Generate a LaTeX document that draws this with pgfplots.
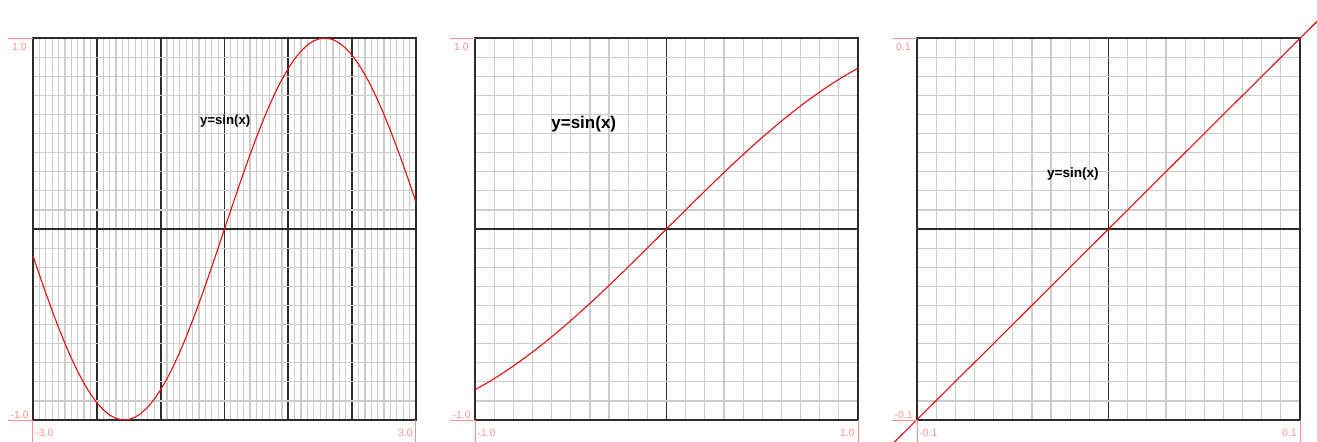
\documentclass[border=0pt]{standalone}
\usepackage{pgfplots}
\pgfplotsset{compat=1.18}
\usepackage{fontspec}
\setmainfont{Liberation Sans}

\definecolor{tickpink}{HTML}{FF9090}
\definecolor{gridgray}{HTML}{CCCCCC}
\definecolor{framegray}{HTML}{2C2C2C}
\definecolor{curvered}{HTML}{E01010}

\pgfplotsset{
  panel/.style={
    scale only axis, width=191.5pt, height=191pt, anchor=south west,
    clip=false,
    axis line style={draw=framegray, line width=0.85pt},
    grid=both,
    major grid style={draw=framegray, line width=0.85pt},
    minor grid style={draw=gridgray, line width=0.6pt},
    xticklabels={}, yticklabels={},
    major tick length=0pt, minor tick length=0pt,
    tick style={draw=none},
  },
  sinline/.style={draw=curvered, line width=0.55pt, no markers},
}

% red corner ticks: #1 = ymax label, #2 = ymin label, #3 = xmin label, #4 = xmax label
\newcommand{\cornerticks}[4]{%
  \draw[tickpink, line width=0.5pt] (rel axis cs:0,1) -- ++(-12.5pt,0pt);
  \draw[tickpink, line width=0.5pt] (rel axis cs:0,0) -- ++(-12.5pt,0pt);
  \draw[tickpink, line width=0.5pt] (rel axis cs:0,0) -- ++(0pt,-12pt);
  \draw[tickpink, line width=0.5pt] (rel axis cs:1,0) -- ++(0pt,-12pt);
  \path (rel axis cs:0,1) ++(-3pt,-2.5pt)
    node[anchor=north east, inner sep=0pt, text=tickpink, font=\fontsize{5.2}{6}\selectfont] {#1};
  \path (rel axis cs:0,0) ++(-2pt,0.7pt)
    node[anchor=south east, inner sep=0pt, text=tickpink, font=\fontsize{5.2}{6}\selectfont] {#2};
  \path (rel axis cs:0,0) ++(1pt,-4.5pt)
    node[anchor=north west, inner sep=0pt, text=tickpink, font=\fontsize{5.2}{6}\selectfont] {#3};
  \path (rel axis cs:1,0) ++(-1.5pt,-4.5pt)
    node[anchor=north east, inner sep=0pt, text=tickpink, font=\fontsize{5.2}{6}\selectfont] {#4};
}

\begin{document}
\begin{tikzpicture}
\path[use as bounding box] (0pt,0pt) rectangle (658.5pt,220.5pt);
\clip (0pt,0pt) rectangle (658.5pt,220.5pt);

% ---------- panel 1: x in [-3,3] ----------
\begin{axis}[panel, at={(16.5pt,10.5pt)},
  xmin=-3, xmax=3, ymin=-1, ymax=1,
  xtick={-2,-1,0,1,2}, ytick={0},
  minor xtick={-3,-2.9,...,3.01},
  minor ytick={-1,-0.9,...,1.01},
]
\addplot[sinline] coordinates {
(-3.0,-0.14112) (-2.9,-0.23925) (-2.8,-0.33499) (-2.7,-0.42738) (-2.6,-0.51550)
(-2.5,-0.59847) (-2.4,-0.67546) (-2.3,-0.74571) (-2.2,-0.80850) (-2.1,-0.86321)
(-2.0,-0.90930) (-1.9,-0.94630) (-1.8,-0.97385) (-1.7,-0.99166) (-1.6,-0.99957)
(-1.5,-0.99749) (-1.4,-0.98545) (-1.3,-0.96356) (-1.2,-0.93204) (-1.1,-0.89121)
(-1.0,-0.84147) (-0.9,-0.78333) (-0.8,-0.71736) (-0.7,-0.64422) (-0.6,-0.56464)
(-0.5,-0.47943) (-0.4,-0.38942) (-0.3,-0.29552) (-0.2,-0.19867) (-0.1,-0.09983)
(0.0,0.0)
(0.1,0.09983) (0.2,0.19867) (0.3,0.29552) (0.4,0.38942) (0.5,0.47943)
(0.6,0.56464) (0.7,0.64422) (0.8,0.71736) (0.9,0.78333) (1.0,0.84147)
(1.1,0.89121) (1.2,0.93204) (1.3,0.96356) (1.4,0.98545) (1.5,0.99749)
(1.6,0.99957) (1.7,0.99166) (1.8,0.97385) (1.9,0.94630) (2.0,0.90930)
(2.1,0.86321) (2.2,0.80850) (2.3,0.74571) (2.4,0.67546) (2.5,0.59847)
(2.6,0.51550) (2.7,0.42738) (2.8,0.33499) (2.9,0.23925) (3.0,0.14112)
};
\node[font=\bfseries\fontsize{6.6}{8}\selectfont, inner sep=0pt] at (axis cs:0.01,0.565) {y=sin(x)};
\cornerticks{1.0}{-1.0}{-3.0}{3.0}
\end{axis}

% ---------- panel 2: x in [-1,1] ----------
\begin{axis}[panel, at={(237.5pt,10.5pt)},
  xmin=-1, xmax=1, ymin=-1, ymax=1,
  xtick={0}, ytick={0},
  minor xtick={-1,-0.9,...,1.01},
  minor ytick={-1,-0.9,...,1.01},
]
\addplot[sinline, smooth] coordinates {
(-1.00,-0.84147) (-0.95,-0.81342) (-0.90,-0.78333) (-0.85,-0.75128) (-0.80,-0.71736)
(-0.75,-0.68164) (-0.70,-0.64422) (-0.65,-0.60519) (-0.60,-0.56464) (-0.55,-0.52269)
(-0.50,-0.47943) (-0.45,-0.43497) (-0.40,-0.38942) (-0.35,-0.34290) (-0.30,-0.29552)
(-0.25,-0.24740) (-0.20,-0.19867) (-0.15,-0.14944) (-0.10,-0.09983) (-0.05,-0.04998)
(0.00,0.0)
(0.05,0.04998) (0.10,0.09983) (0.15,0.14944) (0.20,0.19867) (0.25,0.24740)
(0.30,0.29552) (0.35,0.34290) (0.40,0.38942) (0.45,0.43497) (0.50,0.47943)
(0.55,0.52269) (0.60,0.56464) (0.65,0.60519) (0.70,0.64422) (0.75,0.68164)
(0.80,0.71736) (0.85,0.75128) (0.90,0.78333) (0.95,0.81342) (1.00,0.84147)
};
\node[font=\bfseries\fontsize{8.5}{10}\selectfont, inner sep=0pt] at (axis cs:-0.432,0.55) {y=sin(x)};
\cornerticks{1.0}{-1.0}{-1.0}{1.0}
\end{axis}

% ---------- panel 3: x in [-0.1,0.1] ----------
\begin{axis}[panel, at={(458.5pt,10.5pt)},
  xmin=-0.1, xmax=0.1, ymin=-0.1, ymax=0.1,
  xtick={0}, ytick={0},
  minor xtick={-0.1,-0.09,...,0.101},
  minor ytick={-0.1,-0.09,...,0.101},
]
\addplot[sinline] coordinates {
(-0.12,-0.11971) (-0.06,-0.05996) (0.0,0.0) (0.06,0.05996) (0.12,0.11971)
};
\node[font=\bfseries\fontsize{6.8}{8}\selectfont, inner sep=0pt] at (axis cs:-0.0186,0.0286) {y=sin(x)};
\cornerticks{0.1}{-0.1}{-0.1}{0.1}
\end{axis}
\end{tikzpicture}
\end{document}
